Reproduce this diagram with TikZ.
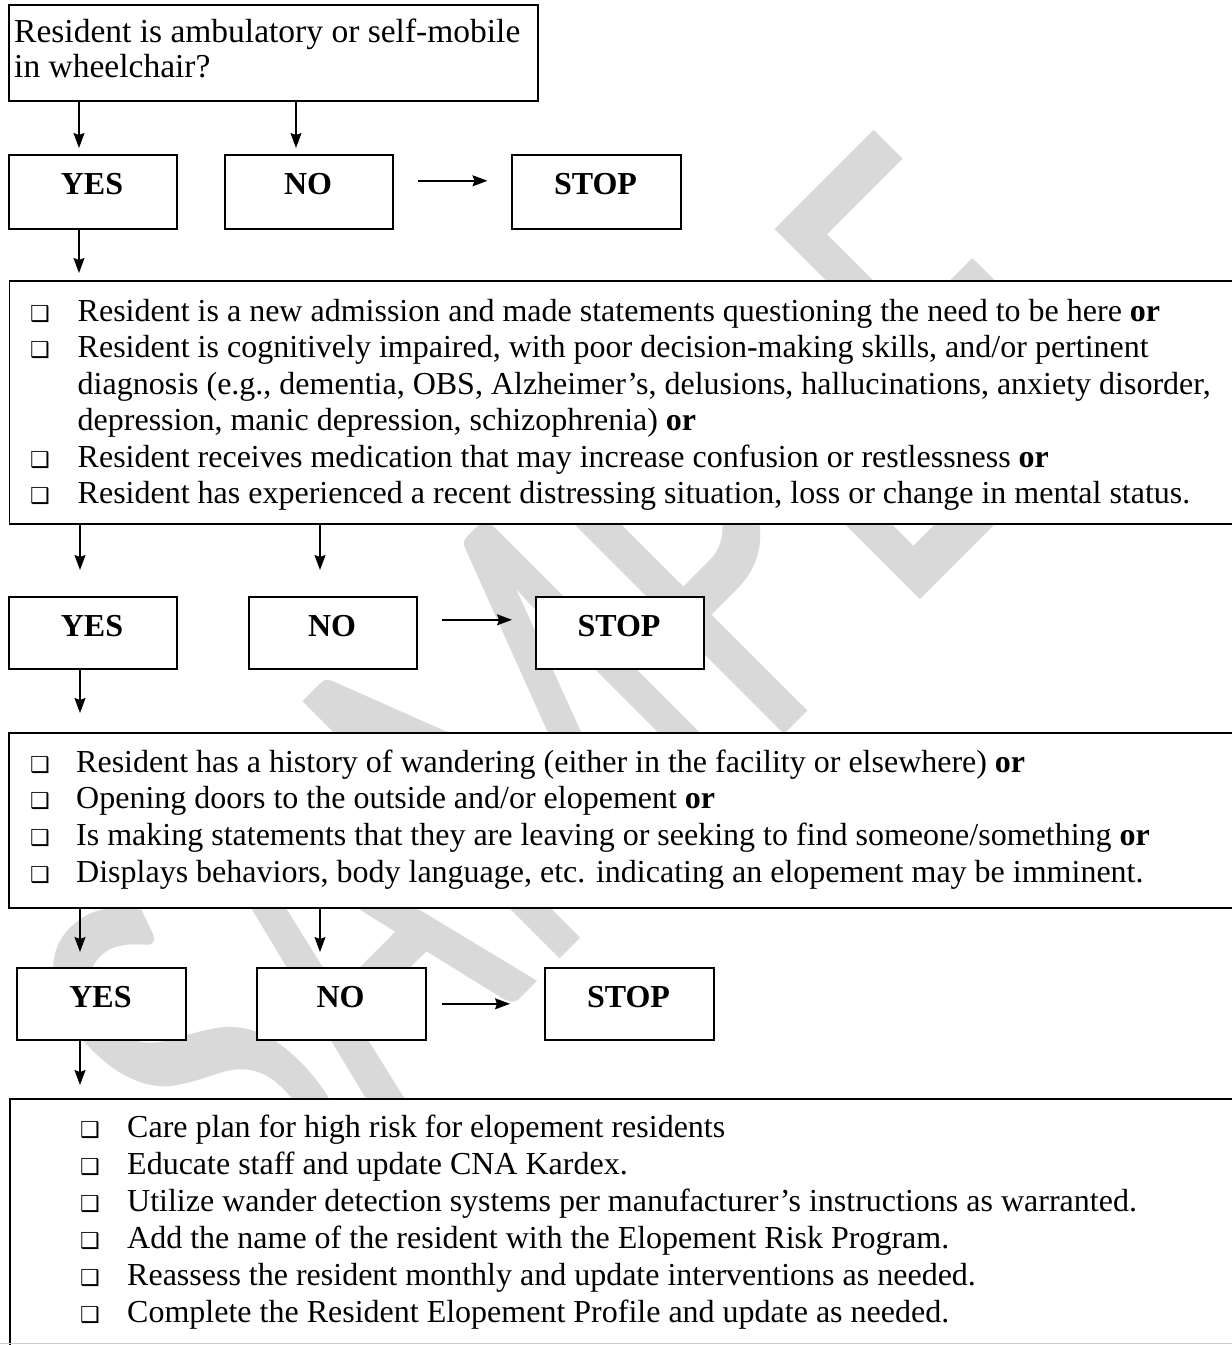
\documentclass[tikz,border=0pt]{standalone}
\usepackage{fontspec}
\usepackage{graphicx}
\setmainfont{Liberation Serif}
\newfontfamily\wmfont{Carlito}
\newfontfamily\bulfont{DejaVu Sans}
\usetikzlibrary{arrows.meta}
\begin{document}
\begin{tikzpicture}[x=1pt,y=-1pt,
  box/.style={draw=black, line width=1.6pt, fill=white, inner sep=0pt, anchor=north west},
  lbl/.style={font=\fontsize{32}{36}\selectfont\bfseries, anchor=base, inner sep=0pt},
  txt/.style={font=\fontsize{32}{36}\selectfont, anchor=base west, inner sep=0pt},
  qtxt/.style={font=\fontsize{33.5}{36}\selectfont, anchor=base west, inner sep=0pt},
  bul/.style={font=\bulfont\fontsize{22}{24}\selectfont, anchor=base west, inner sep=0pt},
  arr/.style={line width=1.5pt, -{Stealth[length=15pt,width=11pt,inset=2pt]}},
]
\clip (0,0) rectangle (1232,1345);
\fill[white] (0,0) rectangle (1232,1345);
% watermark
\node[rotate=45, anchor=base west, inner sep=0pt, text=black!15,
      font=\wmfont\fontsize{567}{567}\selectfont] (wm) at (266,1253) {\scalebox{0.66}[1]{SAMPLE}};

% top question
\node[box, minimum width=529pt, minimum height=96pt] (q) at (8,4) {};
\node[qtxt] (q1) at (14,42) {Resident is ambulatory or self-mobile};
\node[qtxt] (q2) at (14,77) {in wheelchair?};

% row 1
\node[box, minimum width=168pt, minimum height=74pt] (yes1) at (8,154) {};
\node[box, minimum width=168pt, minimum height=74pt] (no1) at (224,154) {};
\node[box, minimum width=169pt, minimum height=74pt] (stop1) at (511,154) {};
\node[lbl] (yes1t) at (92,194) {YES};
\node[lbl] (no1t) at (308,194) {NO};
\node[lbl] (stop1t) at (595.5,194) {STOP};

% box 2
\node[box, minimum width=1240pt, minimum height=243pt] (b2) at (8.5,280) {};
\node[bul] (b2u1) at (30,321) {❑};
\node[txt] (b2l1) at (77.5,321) {Resident is a new admission and made statements questioning the need to be here \textbf{or}};
\node[bul] (b2u2) at (30,357.5) {❑};
\node[txt] (b2l2) at (77.5,357.5) {Resident is cognitively impaired, with poor decision-making skills, and/or pertinent};
\node[txt] (b2l3) at (77.5,394) {diagnosis (e.g., dementia, OBS, Alzheimer’s, delusions, hallucinations, anxiety disorder,};
\node[txt] (b2l4) at (77.5,430) {depression, manic depression, schizophrenia) \textbf{or}};
\node[bul] (b2u3) at (30,467) {❑};
\node[txt] (b2l5) at (77.5,467) {Resident receives medication that may increase confusion or restlessness \textbf{or}};
\node[bul] (b2u4) at (30,503) {❑};
\node[txt] (b2l6) at (77.5,503) {Resident has experienced a recent distressing situation, loss or change in mental status.};

% row 2
\node[box, minimum width=168pt, minimum height=72pt] (yes2) at (8,596) {};
\node[box, minimum width=168pt, minimum height=72pt] (no2) at (248,596) {};
\node[box, minimum width=168pt, minimum height=72pt] (stop2) at (535,596) {};
\node[lbl] (yes2t) at (92,636) {YES};
\node[lbl] (no2t) at (332,636) {NO};
\node[lbl] (stop2t) at (619,636) {STOP};

% box 3
\node[box, minimum width=1240pt, minimum height=175pt] (b3) at (8,732) {};
\node[bul] (b3u1) at (30,772) {❑};
\node[txt] (b3l1) at (76,772) {Resident has a history of wandering (either in the facility or elsewhere) \textbf{or}};
\node[bul] (b3u2) at (30,808.5) {❑};
\node[txt] (b3l2) at (76,808.5) {Opening doors to the outside and/or elopement \textbf{or}};
\node[bul] (b3u3) at (30,845) {❑};
\node[txt] (b3l3) at (76,845) {Is making statements that they are leaving or seeking to find someone/something \textbf{or}};
\node[bul] (b3u4) at (30,882) {❑};
\node[txt] (b3l4) at (76,882) {Displays behaviors, body language, etc. indicating an elopement may be imminent.};

% row 3
\node[box, minimum width=169pt, minimum height=72pt] (yes3) at (16,967) {};
\node[box, minimum width=169pt, minimum height=72pt] (no3) at (256,967) {};
\node[box, minimum width=169pt, minimum height=72pt] (stop3) at (544,967) {};
\node[lbl] (yes3t) at (100.5,1007) {YES};
\node[lbl] (no3t) at (340.5,1007) {NO};
\node[lbl] (stop3t) at (628.5,1007) {STOP};

% box 4
\node[inner sep=0pt, fill=white, anchor=north west, minimum width=1240pt, minimum height=260pt] (b4) at (10,1099) {};
\draw[line width=1.6pt] (b4.south west) -- (b4.north west) -- (b4.north east);
\draw[black!20, line width=1pt] (0,1343.5) -- (1232,1343.5);
\node[bul] (b4u1) at (80,1137.5) {❑};
\node[txt] (b4l1) at (127,1137.5) {Care plan for high risk for elopement residents};
\node[bul] (b4u2) at (80,1174.5) {❑};
\node[txt] (b4l2) at (127,1174.5) {Educate staff and update CNA Kardex.};
\node[bul] (b4u3) at (80,1211.5) {❑};
\node[txt] (b4l3) at (127,1211.5) {Utilize wander detection systems per manufacturer’s instructions as warranted.};
\node[bul] (b4u4) at (80,1248.5) {❑};
\node[txt] (b4l4) at (127,1248.5) {Add the name of the resident with the Elopement Risk Program.};
\node[bul] (b4u5) at (80,1285.5) {❑};
\node[txt] (b4l5) at (127,1285.5) {Reassess the resident monthly and update interventions as needed.};
\node[bul] (b4u6) at (80,1322.5) {❑};
\node[txt] (b4l6) at (127,1322.5) {Complete the Resident Elopement Profile and update as needed.};

% connectors
\coordinate (x1) at (79,0);
\coordinate (x2) at (296,0);
\coordinate (x3) at (80,0);
\coordinate (x4) at (320,0);
\draw[arr, shorten >=6pt] (q.south -| x1) -- (yes1.north -| x1);
\draw[arr, shorten >=6pt] (q.south -| x2) -- (no1.north -| x2);
\draw[arr, shorten <=24pt, shorten >=23.5pt] ([yshift=11pt]no1.east) -- ([yshift=11pt]stop1.west);
\draw[arr, shorten >=7pt] (yes1.south -| x1) -- (b2.north -| x1);

\draw[arr, shorten >=26pt] (b2.south -| x3) -- (yes2.north -| x3);
\draw[arr, shorten >=26pt] (b2.south -| x4) -- (no2.north -| x4);
\draw[arr, shorten <=24pt, shorten >=23pt] ([yshift=13pt]no2.east) -- ([yshift=13pt]stop2.west);
\draw[arr, shorten >=19pt] (yes2.south -| x3) -- (b3.north -| x3);

\draw[arr, shorten >=15pt] (b3.south -| x3) -- (yes3.north -| x3);
\draw[arr, shorten >=15pt] (b3.south -| x4) -- (no3.north -| x4);
\draw[arr, shorten <=15pt, shorten >=34pt] (no3.east) -- (stop3.west);
\draw[arr, shorten >=14pt] (yes3.south -| x3) -- (b4.north -| x3);
\end{tikzpicture}
\end{document}
